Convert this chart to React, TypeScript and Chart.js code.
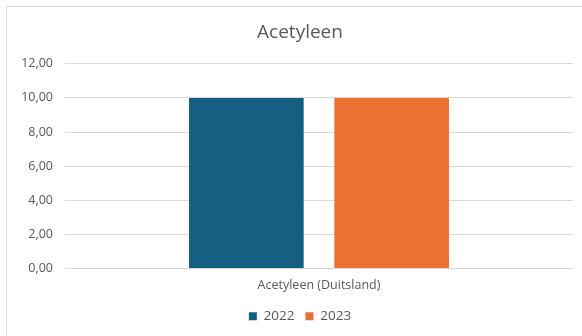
import React, { useEffect, useRef } from "react";
import { Chart, registerables } from "chart.js";

Chart.register(...registerables);

const categories: string[] = ["Acetyleen (Duitsland)"];
const seriesNames: string[] = ["2022", "2023"];
const values2022: number[] = [10];
const values2023: number[] = [10];
const titleText = "Acetyleen";

const FONT = "'Open Sans', 'Liberation Sans', sans-serif";
const TEXT = "#595959";

const unclipYLabels = {
  id: "unclipYLabels",
  afterLayout(chart: any) {
    if (chart.scales.y) chart.scales.y.left = 0;
  },
};

export default function App() {
  const ref = useRef<HTMLCanvasElement | null>(null);
  useEffect(() => {
    if (!ref.current) return;
    const chart = new Chart(ref.current, {
      type: "bar",
      data: {
        labels: categories,
        datasets: [
          {
            label: seriesNames[0],
            data: values2022,
            backgroundColor: "#156082",
            categoryPercentage: 0.572,
            barPercentage: 0.789,
          },
          {
            label: seriesNames[1],
            data: values2023,
            backgroundColor: "#E97132",
            categoryPercentage: 0.572,
            barPercentage: 0.789,
          },
        ],
      },
      plugins: [unclipYLabels],
      options: {
        animation: false,
        responsive: false,
        maintainAspectRatio: false,
        layout: { padding: { left: 27, right: 9, top: 0, bottom: 3 } },
        plugins: {
          title: {
            display: true,
            text: titleText,
            color: TEXT,
            font: { family: FONT, size: 19, weight: "normal" },
            padding: { top: 21, bottom: 20 },
          },
          legend: {
            position: "bottom",
            labels: {
              color: TEXT,
              font: { family: FONT, size: 13.5 },
              boxWidth: 8,
              boxHeight: 8,
              padding: 11,
            },
          },
          tooltip: { enabled: false },
        },
        scales: {
          x: {
            grid: { display: false, drawTicks: false },
            border: { display: false },
            ticks: {
              color: TEXT,
              font: { family: FONT, size: 12.5 },
              padding: 9,
            },
            afterFit: (s: any) => {
              s.height = 30;
            },
          },
          y: {
            min: 0,
            max: 12,
            grid: { color: "#d9d9d9", drawTicks: false },
            border: { display: false },
            ticks: {
              stepSize: 2,
              color: TEXT,
              font: { family: FONT, size: 12.5 },
              padding: 12,
              callback: (v: any) => Number(v).toFixed(2).replace(".", ","),
            },
            afterFit: (s: any) => {
              s.width = 38;
            },
          },
        },
      },
    });
    return () => chart.destroy();
  }, []);
  return (
    <div style={{ position: "fixed", left: 0, top: 0, width: 582, height: 336, background: "#fff", overflow: "hidden" }}>
      <div
        style={{
          position: "absolute",
          left: 6,
          top: 6,
          width: 600,
          height: 400,
          border: "1px solid #d9d9d9",
          boxSizing: "border-box",
        }}
      />
      <canvas ref={ref} width={582} height={336} style={{ position: "absolute", left: 0, top: 0, width: 582, height: 336 }} />
    </div>
  );
}
